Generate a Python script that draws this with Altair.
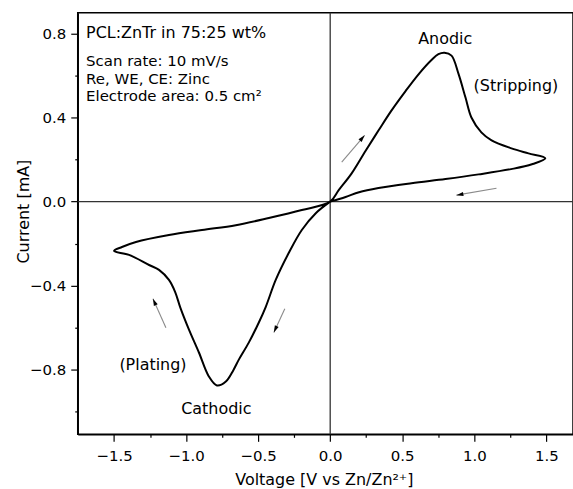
import math
import altair as alt
import pandas as pd

# ---- data ----
cv_voltage = [0.0, -0.100, -0.197, -0.288, -0.378, -0.447, -0.496, -0.565, -0.634, -0.672,
              -0.724, -0.786, -0.842, -0.911, -0.980, -1.040, -1.075, -1.119, -1.188, -1.257,
              -1.396, -1.500,
              -1.445, -1.348, -1.119, -0.890, -0.655, -0.426, -0.197, 0.0,
              0.059, 0.149, 0.246, 0.336, 0.426, 0.523, 0.613, 0.703, 0.751, 0.793,
              0.842, 0.890, 0.939, 0.980, 1.049, 1.120, 1.258, 1.376, 1.493,
              1.400, 1.256, 1.030, 0.800, 0.564, 0.335, 0.200, 0.107, 0.0]
cv_current = [0.0, -0.055, -0.135, -0.245, -0.373, -0.501, -0.577, -0.672, -0.753, -0.803,
              -0.857, -0.876, -0.833, -0.719, -0.610, -0.505, -0.432, -0.373, -0.325, -0.302,
              -0.254, -0.235,
              -0.216, -0.192, -0.159, -0.135, -0.112, -0.078, -0.040, 0.0,
              0.055, 0.135, 0.243, 0.340, 0.435, 0.527, 0.607, 0.675, 0.703, 0.710,
              0.696, 0.610, 0.496, 0.401, 0.330, 0.292, 0.254, 0.230, 0.207,
              0.178, 0.155, 0.130, 0.108, 0.088, 0.065, 0.045, 0.022, 0.0]

arrow_tail_v = [0.080, 1.154, -1.140, -0.315]
arrow_tail_i = [0.188, 0.064, -0.601, -0.510]
arrow_head_v = [0.239, 0.876, -1.230, -0.391]
arrow_head_i = [0.316, 0.031, -0.463, -0.624]

title_line = ["PCL:ZnTr in 75:25 wt%"]
title_v = [-1.694]
title_i = [0.781]

info_lines = ["Scan rate: 10 mV/s", "Re, WE, CE: Zinc", "Electrode area: 0.5 cm²"]
info_v = [-1.694, -1.694, -1.694]
info_i = [0.646, 0.562, 0.478]

label_text = ["Anodic", "(Stripping)", "(Plating)", "Cathodic"]
label_v = [0.798, 1.289, -1.230, -0.790]
label_i = [0.753, 0.526, -0.800, -1.014]

x_ticks = [-1.5, -1.25, -1.0, -0.75, -0.5, -0.25, 0.0, 0.25, 0.5, 0.75, 1.0, 1.25, 1.5]
y_ticks = [-1.0, -0.8, -0.6, -0.4, -0.2, 0.0, 0.2, 0.4, 0.6, 0.8]

X_DOMAIN = [-1.752, 1.685]
Y_DOMAIN = [-1.109, 0.9]
W, H = 497, 423
FONT = "DejaVu Sans"

xs = alt.Scale(domain=X_DOMAIN, nice=False, zero=False)
ys = alt.Scale(domain=Y_DOMAIN, nice=False, zero=False)

x_major = "round(datum.value*4) % 2 === 0"
y_major = "round(datum.value*10) % 4 === 0"

x_axis = alt.Axis(
    values=x_ticks, format=".1f",
    labelExpr=f"{x_major} ? datum.label : ''",
    tickSize={"condition": {"test": x_major, "value": 7}, "value": 3},
    tickColor="black", tickWidth=1.2, domainColor="black", domainWidth=1.5,
    labelFont=FONT, labelFontSize=15, labelColor="black", labelPadding=7,
    grid=False, title="Voltage [V vs Zn/Zn²⁺]", titleFont=FONT, titleFontSize=16,
    titleFontWeight="normal", titleColor="black", titleX=247, titleY=50,
    titleBaseline="alphabetic", titleAlign="center",
)
y_axis = alt.Axis(
    values=y_ticks, format=".1f",
    labelExpr=f"{y_major} ? datum.label : ''",
    tickSize={"condition": {"test": y_major, "value": 7}, "value": 3},
    tickColor="black", tickWidth=1.2, domainColor="black", domainWidth=1.5,
    labelFont=FONT, labelFontSize=15, labelColor="black", labelPadding=5,
    grid=False, title="Current [mA]", titleFont=FONT, titleFontSize=16,
    titleFontWeight="normal", titleColor="black", titleX=-49, titleY=199,
    titleBaseline="alphabetic", titleAlign="center", titleAngle=270,
)


def X(field):
    return alt.X(f"{field}:Q", scale=xs, axis=x_axis)


def Y(field):
    return alt.Y(f"{field}:Q", scale=ys, axis=y_axis)


cv = pd.DataFrame({"v": cv_voltage, "i": cv_current, "k": list(range(len(cv_voltage)))})

zero_h = alt.Chart(pd.DataFrame({"i": [0.0]})).mark_rule(color="#333333", strokeWidth=1.3).encode(y=Y("i"))
zero_v = alt.Chart(pd.DataFrame({"v": [0.0]})).mark_rule(color="#333333", strokeWidth=1.3).encode(x=X("v"))

curve = alt.Chart(cv).mark_line(
    color="black", strokeWidth=2, strokeJoin="round", clip=True, interpolate="catmull-rom"
).encode(x=X("v"), y=Y("i"), order="k:Q")

# arrow angles from the pixel direction of each arrow
sx = W / (X_DOMAIN[1] - X_DOMAIN[0])
sy = H / (Y_DOMAIN[1] - Y_DOMAIN[0])
angles = []
for tv, ti, hv, hi in zip(arrow_tail_v, arrow_tail_i, arrow_head_v, arrow_head_i):
    dx = (hv - tv) * sx
    dy = -(hi - ti) * sy
    angles.append(math.degrees(math.atan2(dx, -dy)) % 360)

arr = pd.DataFrame({"v": arrow_tail_v, "i": arrow_tail_i, "v2": arrow_head_v,
                    "i2": arrow_head_i, "a": angles})
shafts = alt.Chart(arr).mark_rule(color="#8a8a8a", strokeWidth=1.1).encode(
    x=X("v"), y=Y("i"), x2="v2:Q", y2="i2:Q"
)
heads = alt.Chart(arr).mark_point(
    shape="M0,0L-0.6,2L0.6,2Z", size=49, filled=True, color="black", opacity=1, strokeWidth=0
).encode(x=X("v2"), y=Y("i2"), angle=alt.Angle("a:Q", scale=None))

head_line = alt.Chart(pd.DataFrame({"t": title_line, "v": title_v, "i": title_i})).mark_text(
    align="left", baseline="alphabetic", font=FONT, fontSize=16, color="black"
).encode(x=X("v"), y=Y("i"), text="t:N")

info = alt.Chart(pd.DataFrame({"t": info_lines, "v": info_v, "i": info_i})).mark_text(
    align="left", baseline="alphabetic", font=FONT, fontSize=15, color="black"
).encode(x=X("v"), y=Y("i"), text="t:N")

labels = alt.Chart(pd.DataFrame({"t": label_text, "v": label_v, "i": label_i})).mark_text(
    align="center", baseline="alphabetic", font=FONT, fontSize=16, color="black"
).encode(x=X("v"), y=Y("i"), text="t:N")

chart = alt.layer(zero_h, zero_v, curve, shafts, heads, head_line, info, labels).properties(
    width=W, height=H,
    autosize=alt.AutoSizeParams(type="none"),
    padding={"left": 78, "top": 12, "right": 0, "bottom": 54},
    background="white",
).configure_view(stroke="black", strokeWidth=1.5)

chart.save("out.html", embed_options={"renderer": "svg", "actions": False})
